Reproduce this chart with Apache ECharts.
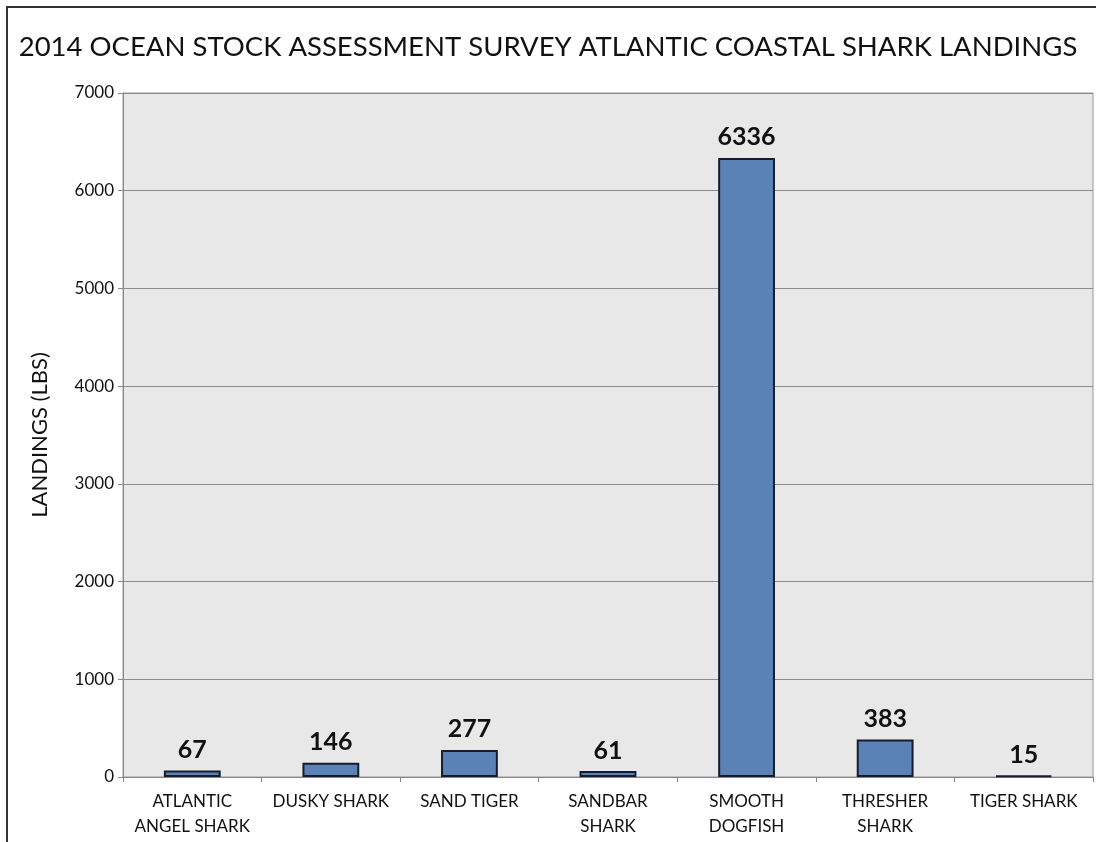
<!DOCTYPE html>
<html><head><meta charset="utf-8">
<script src="https://cdn.jsdelivr.net/npm/echarts@6/dist/echarts.min.js"></script>
<style>html,body{margin:0;padding:0;background:#fff;}#c{width:1096px;height:842px;}</style>
</head><body><div id="c"></div>
<script>
const categories = ['ATLANTIC\nANGEL SHARK','DUSKY SHARK','SAND TIGER','SANDBAR\nSHARK','SMOOTH\nDOGFISH','THRESHER\nSHARK','TIGER SHARK'];
const landings = [67,146,277,61,6336,383,15];
const yTicks = {min:0,max:7000,interval:1000};
const FONT = 'Lato';
const chart = echarts.init(document.getElementById('c'));
chart.setOption({
  backgroundColor:'#fff',
  animation:false,
  textStyle:{fontFamily:FONT},
  title:{text:'2014 OCEAN STOCK ASSESSMENT SURVEY ATLANTIC COASTAL SHARK LANDINGS',left:'center',top:28,
    textStyle:{fontFamily:FONT,fontSize:27.5,fontWeight:'normal',color:'#111'}},
  grid:{left:123,top:93,right:3,bottom:65,show:true,backgroundColor:'#e8e8e8',borderColor:'#999',borderWidth:1},
  graphic:[{type:'rect',shape:{x:7,y:7,width:1100,height:900},style:{fill:'none',stroke:'#333',lineWidth:2},silent:true}],
  xAxis:{type:'category',data:categories,
    axisLine:{lineStyle:{color:'#888'}},
    axisTick:{show:true,alignWithLabel:false,length:5,lineStyle:{color:'#888'}},
    axisLabel:{color:'#111',fontSize:17,margin:12,lineHeight:25,interval:0}},
  yAxis:{type:'value',min:yTicks.min,max:yTicks.max,interval:yTicks.interval,
    name:'LANDINGS (LBS)',nameLocation:'middle',nameGap:72,nameRotate:90,
    nameTextStyle:{fontFamily:FONT,fontSize:22,color:'#111'},
    axisLine:{show:true,lineStyle:{color:'#888'}},
    axisTick:{show:true,length:5,lineStyle:{color:'#888'}},
    axisLabel:{color:'#111',fontSize:17,margin:9,formatter:v=>String(v)},
    splitLine:{lineStyle:{color:'#8c8c8c',width:1}}},
  series:[{type:'bar',data:landings,barWidth:'41%',
    itemStyle:{color:'#5b82b6',borderColor:'#151c2e',borderWidth:2},
    label:{show:true,position:'top',distance:8,fontFamily:FONT,fontSize:25,fontWeight:'bold',color:'#111'}}]
});
</script></body></html>
